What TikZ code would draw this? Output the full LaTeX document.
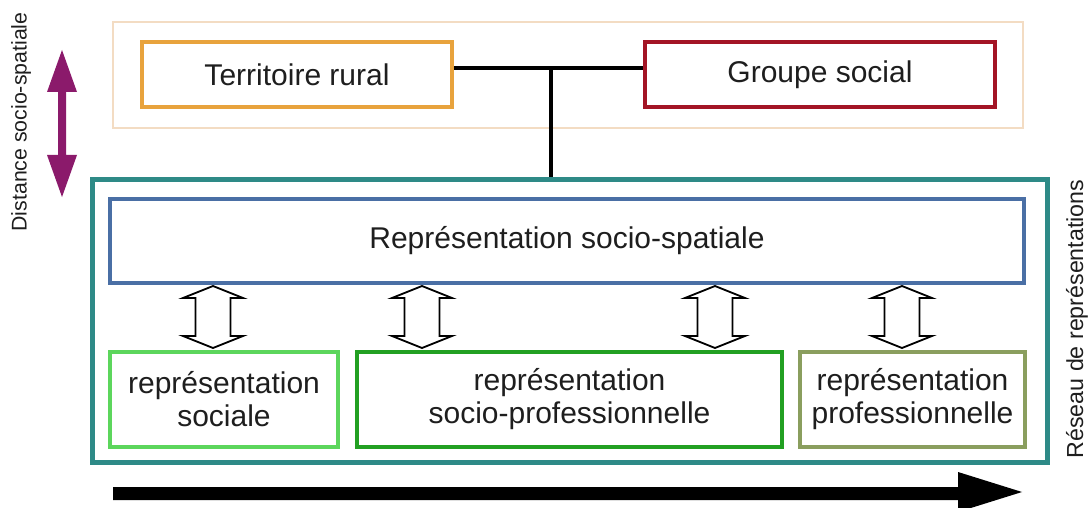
\documentclass[tikz,border=0pt]{standalone}
\usepackage{fontspec}
\setmainfont{Liberation Sans}
\usetikzlibrary{calc}
\definecolor{peach}{HTML}{F3DCC3}
\definecolor{orng}{HTML}{E8A33D}
\definecolor{dred}{HTML}{A31525}
\definecolor{teal2}{HTML}{2E8A87}
\definecolor{steel}{HTML}{4A6FA5}
\definecolor{lgreen}{HTML}{5CD65C}
\definecolor{mgreen}{HTML}{22A022}
\definecolor{olive2}{HTML}{8A9E5E}
\definecolor{purp}{HTML}{8B1A6B}
\definecolor{txt}{HTML}{1E1E1E}
\tikzset{
  box/.style={draw, rectangle, inner sep=0pt, text=txt, align=center,
    font=\fontsize{30}{33}\selectfont},
  hollow/.style={draw=black, fill=white, line width=1.8pt, line join=miter},
  sidelabel/.style={rotate=90, text=txt, inner sep=0pt},
}
\begin{document}
\begin{tikzpicture}[x=1pt,y=-1pt]
\useasboundingbox (0,0) rectangle (1090,508);
% frames
\node[box, draw=peach, line width=2pt, minimum width=910, minimum height=106] (top) at (568,75) {};
\node[box, draw=teal2, line width=5pt, minimum width=955, minimum height=282] (net) at (569.5,321) {};
% top nodes
\node[box, draw=orng, line width=4pt, minimum width=310, minimum height=65] (terr) at (297,74.5) {Territoire rural};
\node[box, draw=dred, line width=4pt, minimum width=350, minimum height=65] (grp) at (820,74.5) {Groupe social};
% representation nodes
\node[box, draw=steel, line width=4pt, minimum width=914, minimum height=84] (rss) at (567,241) {Représentation socio-spatiale};
\node[box, draw=lgreen, line width=4pt, minimum width=228, minimum height=95] (soc) at (224,399.5) {représentation\\sociale};
\node[box, draw=mgreen, line width=4pt, minimum width=425, minimum height=95] (spro) at (569.5,399.5) {représentation\\socio-professionnelle};
\node[box, draw=olive2, line width=4pt, minimum width=225, minimum height=95] (pro) at (912.5,399.5) {représentation\\professionnelle};
% connector between top nodes and network
\coordinate (j) at (551,68);
\draw[line width=3.5pt] (terr.east |- j) -- (grp.west |- j);
\draw[line width=3.5pt] (j) -- (j |- net.north);
% hollow double arrows
\foreach \cx/\tgt in {213/soc,422/spro,715/spro,902/pro}{
  \coordinate (t) at (\cx,286);
  \coordinate (b) at (\cx,348);
  \draw[hollow] (t) -- ++(30,12) -- ++(-12.5,0) -- ($(b)+(17.5,-12)$) -- ++(12.5,0) -- (b)
     -- ++(-30,-12) -- ++(12.5,0) -- ($(t)+(-17.5,12)$) -- ++(-12.5,0) -- cycle;
}
% big black arrow
\coordinate (be) at (1022,492);
\fill[black] (113,487) -- (958,487) -- (958,472) -- (be) -- (958,512) -- (958,500) -- (113,500) -- cycle;
% purple double arrow
\fill[purp] (62,50) -- (77,92) -- (66,92) -- (66,155) -- (77,155) -- (62,197) -- (47,155) -- (58,155) -- (58,92) -- (47,92) -- cycle;
% side labels
\node[sidelabel, font=\fontsize{21.3}{24}\selectfont] (dist) at (21,122) {Distance socio-spatiale};
\node[sidelabel, font=\fontsize{23.2}{26}\selectfont] (res) at (1077,319) {Réseau de représentations};
\end{tikzpicture}
\end{document}
